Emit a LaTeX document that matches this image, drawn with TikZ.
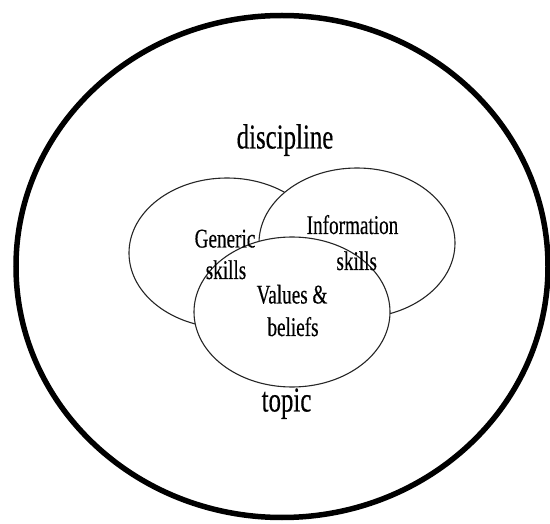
\documentclass[tikz,border=0pt]{standalone}
\usepackage{fontspec}
\newfontfamily\condfont{Liberation Serif}[FakeStretch=0.71,FakeBold=0.35]
\begin{document}
\begin{tikzpicture}[x=1pt,y=-1pt,
  outer/.style={line width=5.5pt, black},
  venn/.style={line width=1.1pt, black!85, fill=white},
  biglbl/.style={font=\condfont\fontsize{35}{40}\selectfont, inner sep=0pt, anchor=base},
  inlbl/.style={font=\condfont\fontsize{27}{32}\selectfont, inner sep=0pt, anchor=base}]
\useasboundingbox (0,0) rectangle (550,524);
% outer discipline circle
\draw[outer] (282,266.5) ellipse [x radius=266, y radius=251];
% three overlapping sets, each drawn over the previous one
\draw[venn] (227,253) ellipse [x radius=98, y radius=75];
\draw[venn] (357,243) ellipse [x radius=98, y radius=75];
\draw[venn] (292,312) ellipse [x radius=98, y radius=75];
% labels
\node[biglbl] (disc) at (285,148.5) {discipline};
\node[biglbl] (topic) at (286.5,411.5) {topic};
\node[inlbl] (gen1) at (225,247.5) {Generic};
\node[inlbl] (gen2) at (226,279) {skills};
\node[inlbl] (inf1) at (352.5,234) {Information};
\node[inlbl] (inf2) at (356.7,270) {skills};
\node[inlbl] (val1) at (292,303.5) {Values \&};
\node[inlbl] (val2) at (293,336) {beliefs};
\end{tikzpicture}
\end{document}
